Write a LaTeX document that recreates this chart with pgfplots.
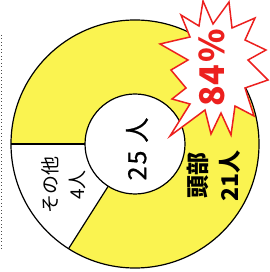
\documentclass[border=0pt]{standalone}
\usepackage{pgfplots}
\pgfplotsset{compat=1.18}
\usepackage{fontspec}
\newfontfamily\cjk{Noto Sans CJK JP}
\newfontfamily\cjkm[FakeBold=0.8]{Noto Sans CJK JP}
\definecolor{donutyellow}{RGB}{250,243,80}
\definecolor{starred}{RGB}{236,32,30}
\begin{document}
\begin{tikzpicture}
\def\vhead{21}\def\vother{4}
\pgfmathsetmacro{\aend}{180+\vother/(\vhead+\vother)*360}
\begin{axis}[hide axis, x=1pt, y=1pt, xmin=0, xmax=269, ymin=0, ymax=272, clip=false, scale only axis]
\addplot[draw=none, forget plot] coordinates {(0,0) (269,272)};
\fill[donutyellow] (axis cs:135,128) circle[radius=124pt];
\fill[white] (axis cs:135,128) -- ++(180:124pt) arc[start angle=180, end angle=\aend, radius=124pt] -- cycle;
\fill[white] (axis cs:135,128) circle[radius=50pt];
\draw[line width=1.2pt] (axis cs:135,128) circle[radius=124pt];
\draw[line width=1.2pt] (axis cs:135,128) circle[radius=50pt];
\draw[line width=1.2pt] (axis cs:135,128) ++(180:50pt) -- ++(180:74pt);
\draw[line width=1.2pt] (axis cs:135,128) ++(\aend:50pt) -- ++(\aend:74pt);
\draw[black!70, dash pattern=on 1pt off 2.5pt, line width=1pt] (axis cs:1.5,237) -- (axis cs:1.5,22);
\node[rotate=90, inner sep=0, font=\cjkm\fontsize{25}{27}\selectfont] at (axis cs:137,123) {2\hspace{2pt}5\hspace{8pt}人};
\node[rotate=90, inner sep=0, align=center, font=\cjk\fontsize{19}{27}\selectfont] at (axis cs:64,87) {その他\\4人};
\node[rotate=90, inner sep=0, align=center, font=\cjk\bfseries\fontsize{23}{32}\selectfont] at (axis cs:214,96) {頭部\\21人};
\draw[starred, fill=white, line width=1.5pt, line join=miter] (axis cs:203,271) -- (axis cs:213,248) -- (axis cs:229,270) -- (axis cs:232,244) -- (axis cs:255,254) -- (axis cs:245,232) -- (axis cs:266,222) -- (axis cs:248,212) -- (axis cs:268,192) -- (axis cs:245,184) -- (axis cs:254,156) -- (axis cs:235,166) -- (axis cs:231,137) -- (axis cs:221,159) -- (axis cs:211,138) -- (axis cs:205,162) -- (axis cs:170,136) -- (axis cs:190,168) -- (axis cs:172,173) -- (axis cs:186,184) -- (axis cs:171,202) -- (axis cs:188,212) -- (axis cs:160,228) -- (axis cs:190,235) -- (axis cs:181,257) -- (axis cs:199,246) -- cycle;
\node[rotate=90, inner sep=0, text=starred, font=\cjk\bfseries\fontsize{34}{36}\selectfont] at (axis cs:212,204) {8\hspace{1pt}4\hspace{2pt}\%};
\end{axis}
\end{tikzpicture}
\end{document}
